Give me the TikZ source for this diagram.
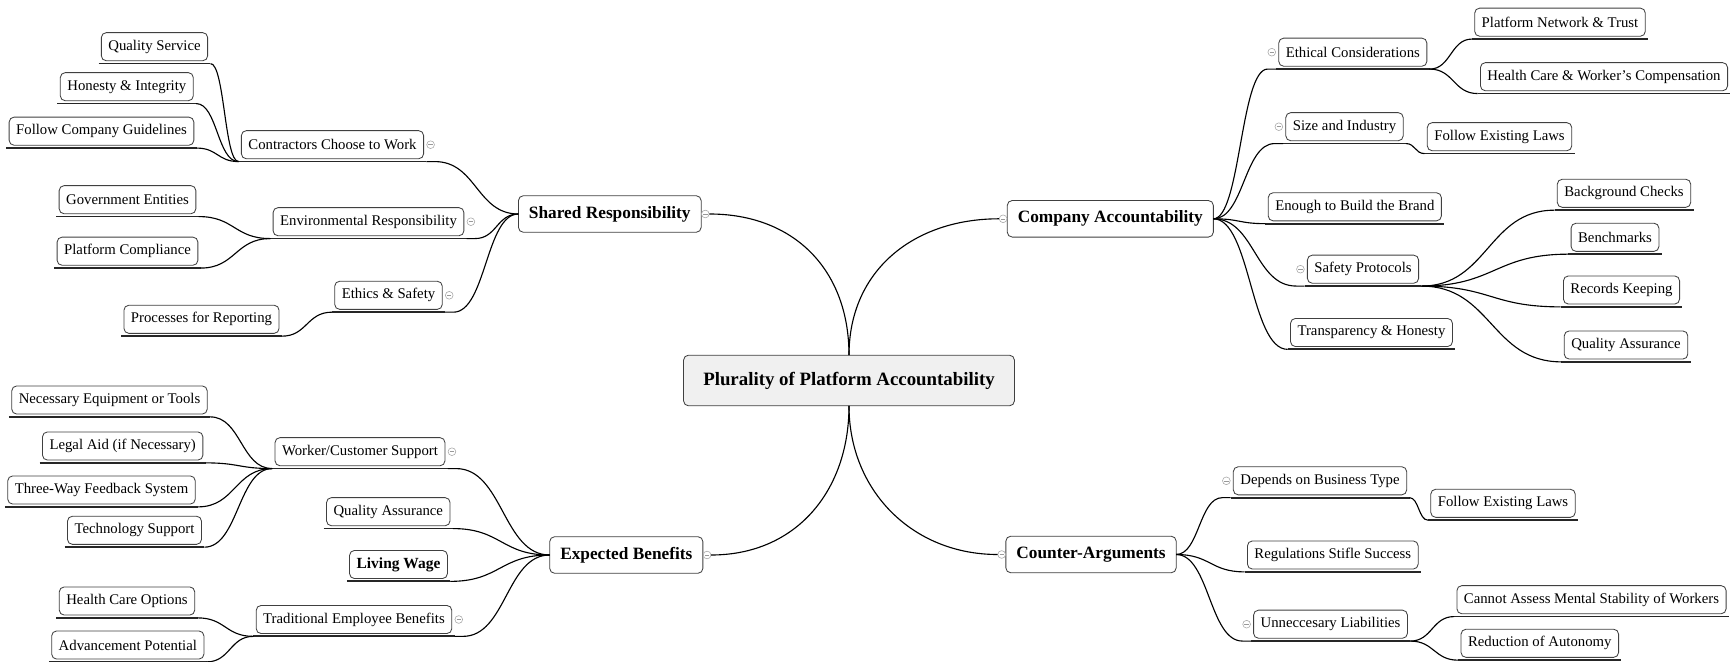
\documentclass[tikz,border=0pt]{standalone}
\usepackage{fontspec}
\setmainfont{Liberation Serif}
\usetikzlibrary{positioning,calc}

\tikzset{
  box/.style={draw=black!75, line width=0.6pt, rounded corners=3.5pt, fill=white,
    inner xsep=5pt, inner ysep=2pt, minimum height=20pt, outer xsep=2pt, outer ysep=2pt,
    font=\fontsize{10.5}{12}\selectfont},
  topic/.style={box, append after command={(\tikzlastnode.south west) edge[uline] (\tikzlastnode.south east)}},
  major/.style={box, inner xsep=7.5pt, minimum height=26pt, outer sep=0pt,
    font=\fontsize{12.3}{14}\selectfont\bfseries},
  central/.style={major, fill=black!6, inner xsep=14pt, minimum height=36pt,
    font=\fontsize{13.4}{16}\selectfont\bfseries},
  uline/.style={draw=black!85, line width=1.3pt},
  link/.style={line width=0.8pt},
  fold/.style={circle, draw=black!35, fill=white, inner sep=0pt, minimum size=5.5pt,
    path picture={\draw[black!40] ([xshift=1.2pt]path picture bounding box.west) -- ([xshift=-1.2pt]path picture bounding box.east);}},
  curve/.style={to path={let \p1=(\tikztostart), \p2=(\tikztotarget) in
    .. controls ({(\x1+\x2)/2},\y1) and ({(\x1+\x2)/2},\y2) .. (\tikztotarget)}}
}

\begin{document}
\begin{tikzpicture}[x=0.025cm, y=-0.025cm]
    \useasboundingbox (0,0) rectangle (1730,662);

    % Centre
    \node[central] (root) at (849,380.5) {Plurality of Platform Accountability};

    % Main topics
    \node[major] (shared) at (609.8,214) {Shared Responsibility};
    \node[major] (expected) at (626.3,555) {Expected Benefits};
    \node[major] (company) at (1110.3,218.8) {Company Accountability};
    \node[major] (counter) at (1091,554.5) {Counter-Arguments};
    \node[fold, right=0pt of shared] (shared-f) {};
    \node[fold, right=0pt of expected] (expected-f) {};
    \node[fold, left=0pt of company] (company-f) {};
    \node[fold, left=0pt of counter] (counter-f) {};

    \draw[link] (root.north) .. controls +(0,-85) and +(85,0) .. (shared-f.east);
    \draw[link] (root.south) .. controls +(0,85) and +(85,0) .. (expected-f.east);
    \draw[link] (root.north) .. controls +(0,-85) and +(-85,0) .. (company-f.west);
    \draw[link] (root.south) .. controls +(0,85) and +(-85,0) .. (counter-f.west);

    % Shared Responsibility
    \node[topic] (ccw) at (332.5,144.7) {Contractors Choose to Work};
    \node[topic] (er) at (368.5,221.7) {Environmental Responsibility};
    \node[topic] (es) at (388.5,295.3) {Ethics \& Safety};
    \node[fold, right=0pt of ccw] (ccw-f) {};
    \node[fold, right=0pt of er] (er-f) {};
    \node[fold, right=0pt of es] (es-f) {};
    \node[topic] (qs) at (154.5,46.7) {Quality Service};
    \node[topic] (hi) at (126.8,86.7) {Honesty \& Integrity};
    \node[topic] (fcg) at (101.5,131.2) {Follow Company Guidelines};
    \node[topic] (ge) at (127.5,199.7) {Government Entities};
    \node[topic] (pc) at (127.5,251.2) {Platform Compliance};
    \node[topic] (pfr) at (201.5,319.3) {Processes for Reporting};

    \draw[link] (shared.west) to[curve] (ccw-f.east |- ccw.south) -- (ccw.south east);
    \draw[link] (shared.west) to[curve] (er-f.east |- er.south) -- (er.south east);
    \draw[link] (shared.west) to[curve] (es-f.east |- es.south) -- (es.south east);
    \draw[link] (ccw.south west) to[curve] (qs.south east);
    \draw[link] (ccw.south west) to[curve] (hi.south east);
    \draw[link] (ccw.south west) to[curve] (fcg.south east);
    \draw[link] (er.south west) to[curve] (ge.south east);
    \draw[link] (er.south west) to[curve] (pc.south east);
    \draw[link] (es.south west) to[curve] (pfr.south east);

    % Expected Benefits
    \node[topic] (wcs) at (360,451.7) {Worker/Customer Support};
    \node[topic] (qal) at (388.3,511.7) {Quality Assurance};
    \node[topic, font=\fontsize{11}{13}\selectfont\bfseries] (lw) at (398.5,564.5) {Living Wage};
    \node[topic] (teb) at (354,619.5) {Traditional Employee Benefits};
    \node[fold, right=0pt of wcs] (wcs-f) {};
    \node[fold, right=0pt of teb] (teb-f) {};
    \node[topic] (net) at (109.5,400) {Necessary Equipment or Tools};
    \node[topic] (la) at (122.7,446) {Legal Aid (if Necessary)};
    \node[topic] (twf) at (101.5,490) {Three-Way Feedback System};
    \node[topic] (ts) at (134.5,530.3) {Technology Support};
    \node[topic] (hco) at (127,601) {Health Care Options};
    \node[topic] (ap) at (127.8,645) {Advancement Potential};

    \draw[link] (expected.west) to[curve] (wcs-f.east |- wcs.south) -- (wcs.south east);
    \draw[link] (expected.west) to[curve] (qal.south east);
    \draw[link] (expected.west) to[curve] (lw.south east);
    \draw[link] (expected.west) to[curve] (teb-f.east |- teb.south) -- (teb.south east);
    \draw[link] (wcs.south west) to[curve] (net.south east);
    \draw[link] (wcs.south west) to[curve] (la.south east);
    \draw[link] (wcs.south west) to[curve] (twf.south east);
    \draw[link] (wcs.south west) to[curve] (ts.south east);
    \draw[link] (teb.south west) to[curve] (hco.south east);
    \draw[link] (teb.south west) to[curve] (ap.south east);

    % Company Accountability
    \node[topic] (ec) at (1352.8,52.2) {Ethical Considerations};
    \node[topic] (si) at (1344.5,126.7) {Size and Industry};
    \node[topic] (eb) at (1354.8,206.8) {Enough to Build the Brand};
    \node[topic] (sp) at (1363,269.2) {Safety Protocols};
    \node[topic] (th) at (1371.5,332.5) {Transparency \& Honesty};
    \node[fold, left=0pt of ec] (ec-f) {};
    \node[fold, left=0pt of si] (si-f) {};
    \node[fold, left=0pt of sp] (sp-f) {};
    \node[topic] (pnt) at (1560,22.2) {Platform Network \& Trust};
    \node[topic] (hcw) at (1604,76.7) {Health Care \& Worker's Compensation};
    \node[topic] (fel) at (1499.5,136.7) {Follow Existing Laws};
    \node[topic] (bc) at (1624,193.3) {Background Checks};
    \node[topic] (bm) at (1615,237.3) {Benchmarks};
    \node[topic] (rk) at (1621.5,290) {Records Keeping};
    \node[topic] (qar) at (1626,345) {Quality Assurance};

    \draw[link] (company.east) to[curve] (ec-f.west |- ec.south) -- (ec.south west);
    \draw[link] (company.east) to[curve] (si-f.west |- si.south) -- (si.south west);
    \draw[link] (company.east) to[curve] (eb.south west);
    \draw[link] (company.east) to[curve] (sp-f.west |- sp.south) -- (sp.south west);
    \draw[link] (company.east) to[curve] (th.south west);
    \draw[link] (ec.south east) to[curve] (pnt.south west);
    \draw[link] (ec.south east) to[curve] (hcw.south west);
    \draw[link] (si.south east) to[curve] (fel.south west);
    \draw[link] (sp.south east) to[curve] (bc.south west);
    \draw[link] (sp.south east) to[curve] (bm.south west);
    \draw[link] (sp.south east) to[curve] (rk.south west);
    \draw[link] (sp.south east) to[curve] (qar.south west);

    % Counter-Arguments
    \node[topic] (dbt) at (1320,480.8) {Depends on Business Type};
    \node[topic] (rss) at (1332.8,555) {Regulations Stifle Success};
    \node[topic] (ul) at (1330.5,624.2) {Unneccesary Liabilities};
    \node[fold, left=0pt of dbt] (dbt-f) {};
    \node[fold, left=0pt of ul] (ul-f) {};
    \node[topic] (fel2) at (1503,503.3) {Follow Existing Laws};
    \node[topic] (cam) at (1591.5,599.7) {Cannot Assess Mental Stability of Workers};
    \node[topic] (roa) at (1539.8,643.3) {Reduction of Autonomy};

    \draw[link] (counter.east) to[curve] (dbt-f.west |- dbt.south) -- (dbt.south west);
    \draw[link] (counter.east) to[curve] (rss.south west);
    \draw[link] (counter.east) to[curve] (ul-f.west |- ul.south) -- (ul.south west);
    \draw[link] (dbt.south east) to[curve] (fel2.south west);
    \draw[link] (ul.south east) to[curve] (cam.south west);
    \draw[link] (ul.south east) to[curve] (roa.south west);
\end{tikzpicture}
\end{document}
